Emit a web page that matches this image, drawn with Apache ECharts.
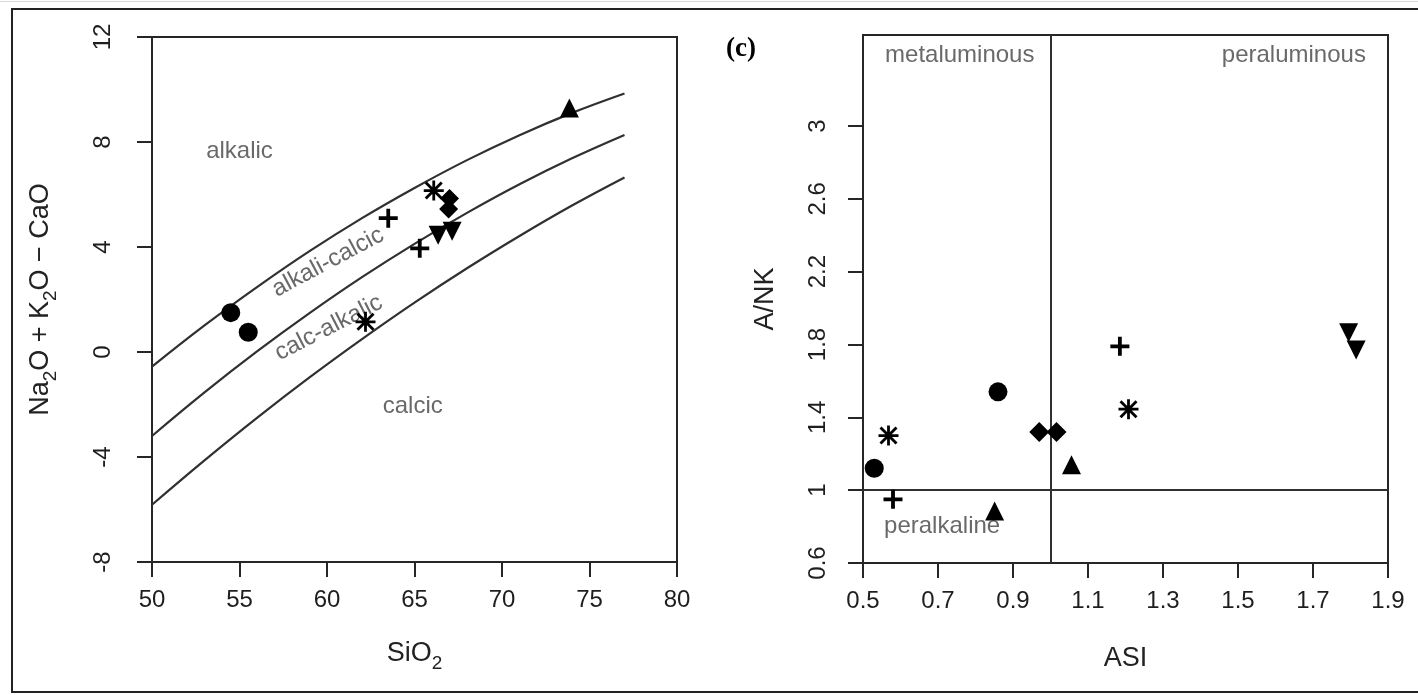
<!DOCTYPE html>
<html><head><meta charset="utf-8">
<script src="https://cdn.jsdelivr.net/npm/echarts@6/dist/echarts.min.js"></script>
<style>html,body{margin:0;padding:0;background:#fff}#c{width:1418px;height:695px}</style>
</head><body><div id="c"></div>
<script>
// ---- MALI diagram (left): boundary curves ----
const curveSiO2 = [50, 53, 56, 59, 62, 65, 68, 71, 74, 77];
const alkalicLine = [-0.56, 1.01, 2.47, 3.84, 5.10, 6.25, 7.31, 8.26, 9.11, 9.85];
const alkaliCalcicLine = [-3.20, -1.54, 0.02, 1.48, 2.85, 4.12, 5.30, 6.39, 7.38, 8.27];
const calcAlkalicLine = [-5.82, -4.13, -2.51, -0.97, 0.49, 1.88, 3.19, 4.42, 5.58, 6.65];

// samples on the MALI diagram [SiO2, Na2O+K2O-CaO]
const maliCircle = [[54.5, 1.5], [55.5, 0.75]];
const maliPlus = [[63.5, 5.1], [65.3, 3.95]];
const maliStar = [[66.1, 6.15], [62.2, 1.15]];
const maliDiamond = [[67.0, 5.85], [66.95, 5.45]];
const maliTriDown = [[66.35, 4.45], [67.15, 4.6]];
const maliTriUp = [[73.85, 9.3]];

// samples on the Shand diagram (right) [ASI, A/NK]
const shandCircle = [[0.53, 1.12], [0.86, 1.54]];
const shandPlus = [[0.58, 0.95], [1.185, 1.79]];
const shandStar = [[0.568, 1.30], [1.208, 1.445]];
const shandDiamond = [[0.97, 1.32], [1.016, 1.32]];
const shandTriDown = [[1.795, 1.865], [1.815, 1.77]];
const shandTriUp = [[0.851, 0.885], [1.056, 1.14]];

// ticks
const siTicks = [50, 55, 60, 65, 70, 75, 80];
const maliTicks = [-8, -4, 0, 4, 8, 12];
const asiTicks = [0.5, 0.7, 0.9, 1.1, 1.3, 1.5, 1.7, 1.9];
const ankTicks = [0.6, 1, 1.4, 1.8, 2.2, 2.6, 3];

// region labels
const maliRegions = [
  {name: 'alkalic', value: [55.0, 7.66], rot: 0},
  {name: 'alkali-calcic', value: [60.06, 3.42], rot: 28},
  {name: 'calc-alkalic', value: [60.1, 0.92], rot: 27},
  {name: 'calcic', value: [64.9, -2.06], rot: 0}
];
const shandRegions = [
  {name: 'metaluminous', value: [0.758, 3.39]},
  {name: 'peraluminous', value: [1.649, 3.39]},
  {name: 'peralkaline', value: [0.711, 0.80]}
];
const shandThresholdASI = 1;
const shandThresholdANK = 1;

const FONT = '"Liberation Sans", Arial, Helvetica, sans-serif';
const INK = '#262626';
const PLUS = 'path://M4,0H6V4H10V6H6V10H4V6H0V4H4Z';
const STAR = 'path://M4.3,0H5.7V10H4.3Z M0,4.3H10V5.7H0Z M0.5,1.5L1.5,0.5L9.5,8.5L8.5,9.5Z M8.5,0.5L9.5,1.5L1.5,9.5L0.5,8.5Z';

function pts(xs, ys) { return xs.map((x, i) => [x, ys[i]]); }

function axisCommon() {
  return {
    axisLine: {show: true, onZero: false, lineStyle: {color: INK, width: 2}},
    splitLine: {show: false},
    nameTextStyle: {fontFamily: FONT, color: '#222', fontSize: 27}
  };
}
const tickLabel = {fontFamily: FONT, fontSize: 24, color: '#1e1e1e'};

function markerSeries(xi, yi, data, symbol, size, rotate) {
  return {
    type: 'scatter', xAxisIndex: xi, yAxisIndex: yi, data: data,
    symbol: symbol, symbolSize: size, symbolRotate: rotate || 0,
    itemStyle: {color: '#000', opacity: 1}, z: 5, silent: true
  };
}
function curveSeries(ys) {
  return {
    type: 'line', xAxisIndex: 0, yAxisIndex: 0, data: pts(curveSiO2, ys),
    smooth: 0.4, showSymbol: false, symbol: 'none',
    lineStyle: {color: '#303030', width: 2.2}, z: 3, silent: true
  };
}
const richName = {
  n: {fontFamily: FONT, fontSize: 27, color: '#222', lineHeight: 31, verticalAlign: 'bottom', padding: [0, 0, 6, 0]},
  s: {fontFamily: FONT, fontSize: 19, color: '#222', lineHeight: 21, verticalAlign: 'bottom'}
};

const chart = echarts.init(document.getElementById('c'), null, {renderer: 'canvas'});
const option = {
  backgroundColor: '#fff',
  animation: false,
  grid: [
    {left: 152, top: 37, width: 525, height: 525, show: true, borderColor: INK, borderWidth: 2, backgroundColor: 'transparent'},
    {left: 863, top: 35, width: 525, height: 528, show: true, borderColor: INK, borderWidth: 2, backgroundColor: 'transparent'}
  ],
  xAxis: [
    Object.assign(axisCommon(), {
      gridIndex: 0, type: 'value', min: 50, max: 80, interval: 5,
      axisLabel: Object.assign({margin: 26, customValues: siTicks}, tickLabel),
      axisTick: {show: true, length: 15, lineStyle: {color: INK, width: 2}, customValues: siTicks},
      name: '{n|SiO}{s|2}', nameLocation: 'middle', nameGap: 80,
      nameTextStyle: {rich: richName}
    }),
    Object.assign(axisCommon(), {
      gridIndex: 1, type: 'value', min: 0.5, max: 1.9, interval: 0.2,
      axisLabel: Object.assign({margin: 26, customValues: asiTicks, formatter: v => (+v).toFixed(1)}, tickLabel),
      axisTick: {show: true, length: 15, lineStyle: {color: INK, width: 2}, customValues: asiTicks},
      name: 'ASI', nameLocation: 'middle', nameGap: 82
    })
  ],
  yAxis: [
    Object.assign(axisCommon(), {
      gridIndex: 0, type: 'value', min: -8, max: 12, interval: 4,
      axisLabel: Object.assign({margin: 37, rotate: 90, customValues: maliTicks}, tickLabel),
      axisTick: {show: true, length: 15, lineStyle: {color: INK, width: 2}, customValues: maliTicks},
      name: '{n|Na}{s|2}{n|O + K}{s|2}{n|O − CaO}', nameLocation: 'middle', nameGap: 92, nameRotate: 90,
      nameTextStyle: {rich: richName}
    }),
    Object.assign(axisCommon(), {
      gridIndex: 1, type: 'value', min: 0.6, max: 3.5, interval: 0.4,
      axisLabel: Object.assign({margin: 33, rotate: 90, customValues: ankTicks, formatter: v => String(+(+v).toFixed(1))}, tickLabel),
      axisTick: {show: true, length: 15, lineStyle: {color: INK, width: 2}, customValues: ankTicks},
      name: 'A/NK', nameLocation: 'middle', nameGap: 84, nameRotate: 90
    })
  ],
  series: [
    curveSeries(alkalicLine),
    curveSeries(alkaliCalcicLine),
    curveSeries(calcAlkalicLine),
    {
      type: 'scatter', xAxisIndex: 0, yAxisIndex: 0, symbolSize: 0, silent: true, z: 4,
      data: maliRegions.map(r => ({name: r.name, value: r.value, label: {rotate: r.rot}})),
      label: {show: true, position: 'inside', formatter: p => p.name,
        fontFamily: FONT, fontSize: 24, color: '#444'}
    },
    markerSeries(0, 0, maliCircle, 'circle', 19),
    markerSeries(0, 0, maliPlus, PLUS, 19),
    markerSeries(0, 0, maliStar, STAR, 20),
    markerSeries(0, 0, maliDiamond, 'diamond', 19),
    markerSeries(0, 0, maliTriDown, 'triangle', 19, 180),
    markerSeries(0, 0, maliTriUp, 'triangle', 19),
    {
      type: 'scatter', xAxisIndex: 1, yAxisIndex: 1, symbolSize: 0, silent: true, z: 4,
      data: shandRegions.map(r => ({name: r.name, value: r.value})),
      label: {show: true, position: 'inside', formatter: p => p.name,
        fontFamily: FONT, fontSize: 24, color: '#444'},
      markLine: {
        silent: true, symbol: ['none', 'none'], label: {show: false},
        lineStyle: {color: '#303030', width: 2, type: 'solid'},
        data: [{xAxis: shandThresholdASI}, {yAxis: shandThresholdANK}]
      }
    },
    markerSeries(1, 1, shandCircle, 'circle', 19),
    markerSeries(1, 1, shandPlus, PLUS, 19),
    markerSeries(1, 1, shandStar, STAR, 20),
    markerSeries(1, 1, shandDiamond, 'diamond', 20),
    markerSeries(1, 1, shandTriDown, 'triangle', 19, 180),
    markerSeries(1, 1, shandTriUp, 'triangle', 19)
  ],
  graphic: [
    {type: 'line', shape: {x1: 0, y1: 1.5, x2: 1418, y2: 1.5}, style: {stroke: '#d8d8d8', lineWidth: 1}, silent: true},
    {type: 'rect', shape: {x: 12, y: 9, width: 1420, height: 683}, style: {fill: 'none', stroke: '#222', lineWidth: 2}, silent: true},
    {type: 'text', left: 726, top: 36, style: {text: '(c)', font: 'bold 27px "Liberation Serif", "DejaVu Serif", serif', fill: '#000'}, silent: true}
  ]
};
chart.setOption(option);
</script>
</body></html>
